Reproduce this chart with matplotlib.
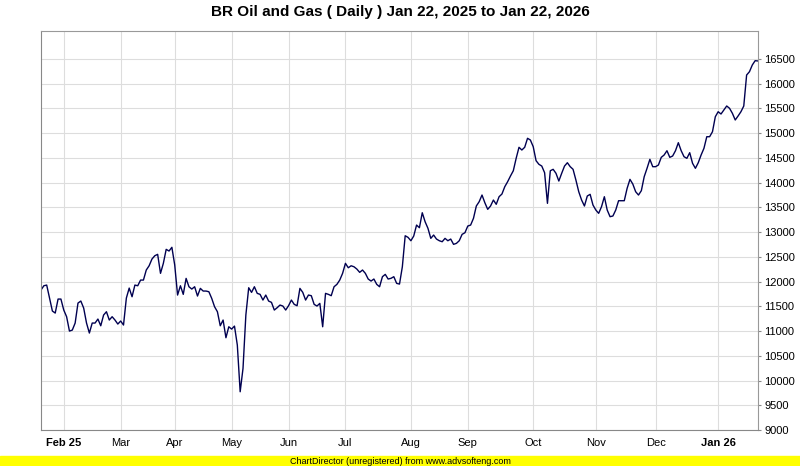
import numpy as np
import matplotlib.pyplot as plt

# daily closes, Jan 22 2025 .. Jan 22 2026
closes = [
    11829, 11916, 11930, 11667, 11405, 11364, 11647, 11647, 11425, 11290,
    11000, 11020, 11162, 11566, 11607, 11465, 11162, 10960, 11162, 11162,
    11243, 11107, 11324, 11391, 11223, 11290, 11223, 11142, 11203, 11122,
    11667, 11869, 11694, 11930, 11916, 12031, 12031, 12234, 12320, 12456,
    12523, 12551, 12167, 12369, 12652, 12618, 12693, 12335, 11728, 11916,
    11742, 12065, 11896, 11849, 11896, 11708, 11863, 11809, 11809, 11795,
    11661, 11492, 11391, 11107, 11223, 10865, 11087, 11040, 11101, 10717,
    9773, 10246, 11324, 11876, 11782, 11896, 11762, 11742, 11627, 11728,
    11607, 11580, 11425, 11472, 11526, 11506, 11425, 11512, 11627, 11540,
    11512, 11863, 11782, 11627, 11728, 11715, 11540, 11506, 11560, 11087,
    11762, 11742, 11715, 11896, 11944, 12031, 12167, 12369, 12280, 12320,
    12300, 12254, 12187, 12234, 12167, 12052, 12011, 12052, 11944, 11896,
    12099, 12146, 12052, 12066, 12099, 11964, 11950, 12300, 12927, 12894,
    12826, 12921, 13143, 13089, 13392, 13210, 13077, 12874, 12941, 12860,
    12826, 12806, 12874, 12826, 12860, 12753, 12773, 12826, 12955, 12988,
    13123, 13143, 13279, 13528, 13615, 13750, 13594, 13461, 13528, 13649,
    13562, 13716, 13770, 13918, 14019, 14134, 14241, 14492, 14715, 14660,
    14715, 14897, 14862, 14727, 14444, 14371, 14336, 14201, 13582, 14241,
    14270, 14189, 14033, 14189, 14336, 14403, 14323, 14270, 14053, 13817,
    13649, 13528, 13730, 13764, 13548, 13447, 13380, 13514, 13716, 13447,
    13312, 13326, 13447, 13635, 13635, 13635, 13885, 14067, 13972, 13817,
    13750, 13838, 14120, 14290, 14472, 14323, 14323, 14357, 14512, 14559,
    14646, 14512, 14539, 14646, 14808, 14646, 14525, 14492, 14606, 14391,
    14290, 14403, 14559, 14694, 14929, 14929, 15030, 15333, 15434, 15388,
    15469, 15550, 15503, 15402, 15267, 15348, 15434, 15550, 16176, 16243,
    16379, 16466, 16460,
]

# first trading day of each month (index into closes) and its label
month_idx = [8, 28, 47, 67, 87, 107, 130, 150, 173, 195, 216, 238]
month_labels = ["Feb 25", "Mar", "Apr", "May", "Jun", "Jul", "Aug", "Sep",
                "Oct", "Nov", "Dec", "Jan 26"]

plt.rcParams['font.family'] = ['Liberation Sans', 'DejaVu Sans']

fig = plt.figure(figsize=(8, 4.66), dpi=100)
ax = fig.add_axes([41 / 800, 1 - 430 / 466, 717 / 800, 399 / 466])

x = np.arange(len(closes))
ax.plot(x, closes, color='#000050', lw=1.0)

ax.set_xlim(0, len(closes) - 1)
ax.set_ylim(9000, 17066)
ax.set_yticks(np.arange(9000, 16501, 500))
ax.yaxis.tick_right()
ax.tick_params(axis='y', length=2.5, width=0.8, color='#888888', labelsize=8, pad=2)
ax.set_xticks(month_idx)
ax.set_xticklabels(month_labels)
ax.tick_params(axis='x', length=0, labelsize=8, pad=6)
for lbl in ax.get_xticklabels():
    if lbl.get_text() in ("Feb 25", "Jan 26"):
        lbl.set_fontweight('bold')

ax.grid(True, color='#dddddd', lw=0.8)
ax.set_axisbelow(True)
for s in ax.spines.values():
    s.set_color('#999999')
    s.set_linewidth(0.8)
ax.spines['left'].set_color('#888888')
ax.spines['bottom'].set_color('#888888')

fig.text(0.5, 1 - 12 / 466, "BR Oil and Gas ( Daily ) Jan 22, 2025 to Jan 22, 2026",
         ha='center', va='center', fontsize=11, fontweight='bold')

# yellow footer band
fig.patches.append(plt.Rectangle((0, 0), 1, 10 / 466, transform=fig.transFigure,
                                 color='#ffff00', zorder=0))
fig.text(0.5, 5 / 466, "ChartDirector (unregistered) from www.advsofteng.com",
         ha='center', va='center', fontsize=6.5)

plt.savefig("out.png", dpi=100)
